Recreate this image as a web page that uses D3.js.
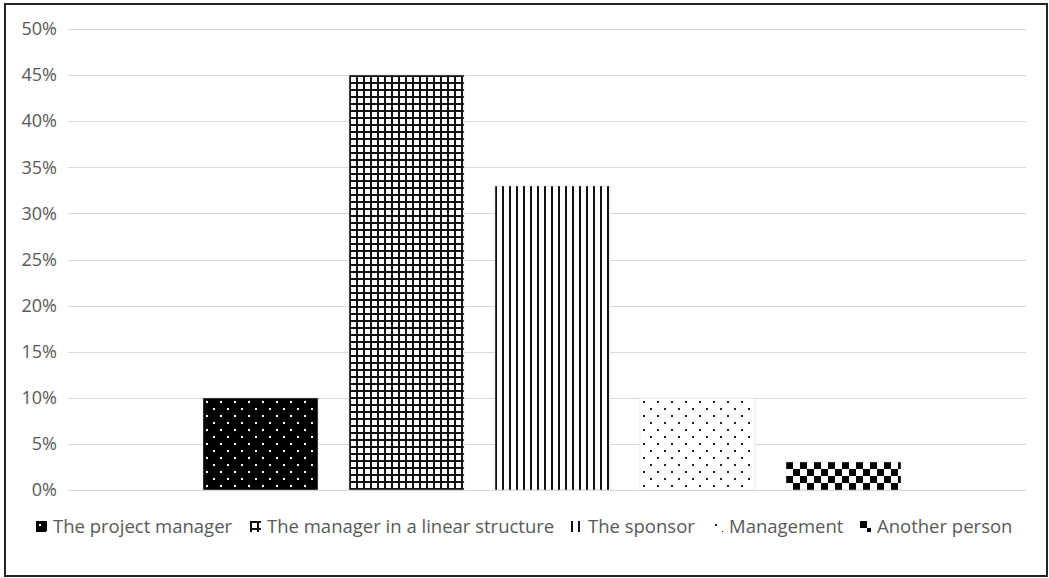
<!DOCTYPE html>
<meta charset="utf-8">
<script src="https://d3js.org/d3.v7.min.js"></script>
<style>
  body { margin: 0; background: #fff; }
  text { font-family: "Open Sans", sans-serif; fill: #595959; }
</style>
<div id="my_dataviz"></div>
<script>

// data
var seriesNames = ["The project manager", "The manager in a linear structure", "The sponsor", "Management", "Another person"];
var seriesValues = [0.10, 0.45, 0.33, 0.10, 0.03];
var patternIds = ["pDots", "pGrid", "pVert", "pSparse", "pCheck"];
var yTicks = [0, 0.05, 0.10, 0.15, 0.20, 0.25, 0.30, 0.35, 0.40, 0.45, 0.50];

var W = 1049, H = 578;
var margin = {top: 29, right: 23, bottom: 88, left: 68},
  width = W - margin.left - margin.right,
  height = H - margin.top - margin.bottom;

var svgRoot = d3.select("#my_dataviz")
  .append("svg")
    .attr("width", W)
    .attr("height", H);

// patterns (tiles in the user space of the bar / swatch group)
var defs = svgRoot.append("defs");

var p1 = defs.append("pattern").attr("id", "pDots")
  .attr("patternUnits", "userSpaceOnUse").attr("width", 14).attr("height", 14);
p1.append("rect").attr("width", 14).attr("height", 14).attr("fill", "#000");
p1.append("rect").attr("x", 3).attr("y", 3).attr("width", 2).attr("height", 2).attr("fill", "#fff");
p1.append("rect").attr("x", 10).attr("y", 10).attr("width", 2).attr("height", 2).attr("fill", "#fff");

var p2 = defs.append("pattern").attr("id", "pGrid")
  .attr("patternUnits", "userSpaceOnUse").attr("width", 7).attr("height", 7);
p2.append("rect").attr("width", 7).attr("height", 7).attr("fill", "#fff");
p2.append("rect").attr("x", 0).attr("width", 2).attr("height", 7).attr("fill", "#111");
p2.append("rect").attr("y", 0).attr("width", 7).attr("height", 2).attr("fill", "#111");

var p3 = defs.append("pattern").attr("id", "pVert")
  .attr("patternUnits", "userSpaceOnUse").attr("width", 7).attr("height", 7);
p3.append("rect").attr("width", 7).attr("height", 7).attr("fill", "#fff");
p3.append("rect").attr("x", 0).attr("width", 2).attr("height", 7).attr("fill", "#111");

var p4 = defs.append("pattern").attr("id", "pSparse")
  .attr("patternUnits", "userSpaceOnUse").attr("width", 14).attr("height", 14);
p4.append("rect").attr("width", 14).attr("height", 14).attr("fill", "#fff");
p4.append("rect").attr("x", 3).attr("y", 3).attr("width", 2).attr("height", 2).attr("fill", "#222");
p4.append("rect").attr("x", 10).attr("y", 10).attr("width", 2).attr("height", 2).attr("fill", "#222");

var p5 = defs.append("pattern").attr("id", "pCheck")
  .attr("patternUnits", "userSpaceOnUse").attr("width", 14).attr("height", 14);
p5.append("rect").attr("width", 14).attr("height", 14).attr("fill", "#fff");
p5.append("rect").attr("width", 7).attr("height", 7).attr("fill", "#000");
p5.append("rect").attr("x", 7).attr("y", 7).attr("width", 7).attr("height", 7).attr("fill", "#000");

// outer frame
svgRoot.append("rect")
  .attr("x", 5).attr("y", 4)
  .attr("width", 1042).attr("height", 572)
  .attr("fill", "none")
  .attr("stroke", "#222")
  .attr("stroke-width", 2);

var svg = svgRoot.append("g")
  .attr("transform", "translate(" + margin.left + "," + margin.top + ")");

// scales
var y = d3.scaleLinear().domain([0, 0.5]).range([height, 0]);

var xCat = d3.scaleBand().domain(["all"]).range([0, width])
  .paddingOuter(0.186).paddingInner(0).align(0.52);
var x = d3.scaleBand().domain(seriesNames)
  .range([xCat("all"), xCat("all") + xCat.bandwidth()])
  .paddingInner(0.211).paddingOuter(0);

// gridlines
svg.append("g")
  .selectAll("line")
  .data(yTicks)
  .join("line")
    .attr("x1", 0).attr("x2", width)
    .attr("y1", function(d) { return Math.round(y(d)) + 0.5; })
    .attr("y2", function(d) { return Math.round(y(d)) + 0.5; })
    .attr("stroke", "#d9d9d9")
    .attr("stroke-width", 1);

// y axis labels
var yAxis = svg.append("g")
  .call(d3.axisLeft(y).tickValues(yTicks).tickFormat(d3.format(".0%")).tickSize(0).tickPadding(11));
yAxis.select(".domain").remove();
yAxis.selectAll("text")
  .style("font-size", "18px")
  .style("font-family", "Open Sans, sans-serif")
  .attr("fill", "#595959");

// bars
var bars = svg.append("g")
  .selectAll("g")
  .data(seriesNames)
  .join("g")
    .attr("transform", function(d, i) { return "translate(" + Math.round(x(d)) + "," + Math.round(y(seriesValues[i])) + ")"; });

bars.append("rect")
  .attr("width", Math.round(x.bandwidth()))
  .attr("height", function(d, i) { return Math.round(y(0)) - Math.round(y(seriesValues[i])); })
  .attr("fill", function(d, i) { return "url(#" + patternIds[i] + ")"; })
  .attr("stroke", "#d0d0d0")
  .attr("stroke-width", 0.5);

// legend
var legend = svgRoot.append("g").attr("transform", "translate(0,527)");
var items = legend.selectAll("g")
  .data(seriesNames)
  .join("g");

items.append("g").attr("class", "sw")
  .append("rect")
    .attr("width", 11).attr("height", 11)
    .attr("fill", function(d, i) { return "url(#" + patternIds[i] + ")"; });

items.append("text")
  .attr("x", 17)
  .attr("y", 0)
  .attr("dy", "0.35em")
  .style("font-size", "18.5px")
  .text(function(d) { return d; });

// place items one after another, centred
var gap = 17, pos = [], cur = 0;
items.each(function() {
  var w = 17 + d3.select(this).select("text").node().getComputedTextLength();
  pos.push(cur);
  cur += w + gap;
});
var total = cur - gap;
var start = (W - total) / 2;
items.attr("transform", function(d, i) { return "translate(" + Math.round(start + pos[i]) + ",0)"; });
items.select(".sw").attr("transform", "translate(0,-6)");

</script>
